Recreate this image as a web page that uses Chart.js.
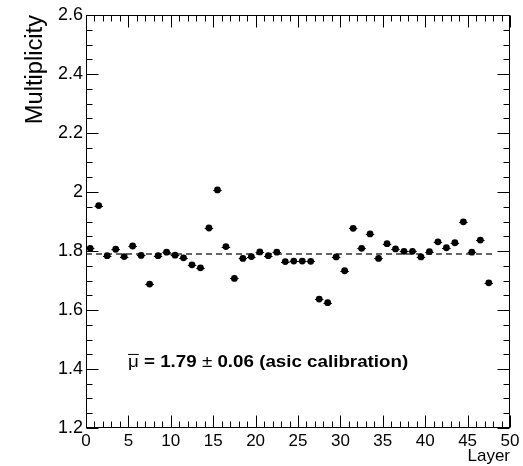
<!DOCTYPE html>
<html>
<head>
<meta charset="utf-8">
<script src="https://cdn.jsdelivr.net/npm/chart.js@4"></script>
<style>
  body { margin: 0; background: #fff; }
  #wrap { width: 523px; height: 466px; }
</style>
</head>
<body>
<div id="wrap"><canvas id="c" width="523" height="466"></canvas></div>
<script>
// data (bin centres of each layer)
const layers = [0.5, 1.5, 2.5, 3.5, 4.5, 5.5, 6.5, 7.5, 8.5, 9.5,
  10.5, 11.5, 12.5, 13.5, 14.5, 15.5, 16.5, 17.5, 18.5, 19.5,
  20.5, 21.5, 22.5, 23.5, 24.5, 25.5, 26.5, 27.5, 28.5, 29.5,
  30.5, 31.5, 32.5, 33.5, 34.5, 35.5, 36.5, 37.5, 38.5, 39.5,
  40.5, 41.5, 42.5, 43.5, 44.5, 45.5, 46.5, 47.5];
const multiplicity = [1.809, 1.954, 1.784, 1.806, 1.781, 1.817, 1.785, 1.688, 1.784, 1.796,
  1.786, 1.777, 1.753, 1.743, 1.878, 2.007, 1.815, 1.707, 1.775, 1.781,
  1.797, 1.784, 1.796, 1.764, 1.766, 1.766, 1.765, 1.637, 1.625, 1.780,
  1.733, 1.877, 1.809, 1.858, 1.775, 1.825, 1.807, 1.799, 1.799, 1.780,
  1.798, 1.831, 1.811, 1.828, 1.899, 1.796, 1.837, 1.692];
const halfWidth = 0.5;          // horizontal error bar (bin half width)
const meanValue = 1.79;
const meanRange = [0, 48];
const xTicks = [0, 5, 10, 15, 20, 25, 30, 35, 40, 45, 50];
const yTicks = [1.2, 1.4, 1.6, 1.8, 2, 2.2, 2.4, 2.6];
const xTitle = 'Layer';
const yTitle = 'Multiplicity';
const label = { mu: '\u03bc', a: ' = 1.79 ', pm: '\u00b1', b: ' 0.06 (asic calibration)', x: 4.95, x2: 38, y: 1.407 };

const FONT = '"Liberation Sans", Arial, sans-serif';

// frame, inward ticks, error bars, titles and the fit label
const rootStyle = {
  id: 'rootStyle',
  beforeDatasetsDraw(chart) {
    const ctx = chart.ctx, xs = chart.scales.x, ys = chart.scales.y;
    ctx.save();
    ctx.strokeStyle = '#000';
    ctx.lineWidth = 1;
    layers.forEach((l, i) => {
      const py = Math.round(ys.getPixelForValue(multiplicity[i])) + 0.5;
      ctx.beginPath();
      ctx.moveTo(xs.getPixelForValue(l - halfWidth), py);
      ctx.lineTo(xs.getPixelForValue(l + halfWidth), py);
      ctx.stroke();
    });
    ctx.restore();
  },
  afterDraw(chart) {
    const ctx = chart.ctx, a = chart.chartArea;
    const xs = chart.scales.x, ys = chart.scales.y;
    ctx.save();
    ctx.strokeStyle = '#000';
    ctx.lineWidth = 1;
    const L = Math.round(a.left) + 0.5, R = Math.round(a.right) - 0.5;
    const T = Math.round(a.top) + 0.5, B = Math.round(a.bottom) - 0.5;
    ctx.strokeRect(L, T, R - L, B - T);
    ctx.beginPath();
    // x ticks: major every 5, minor every 1
    for (let v = 0; v <= 50; v += 1) {
      const p = Math.round(xs.getPixelForValue(v)) + 0.5;
      const len = v % 5 === 0 ? 12 : 6;
      ctx.moveTo(p, B); ctx.lineTo(p, B - len);
      ctx.moveTo(p, T); ctx.lineTo(p, T + len);
    }
    // y ticks: major every 0.2, minor every 0.05
    for (let k = 0; k <= 28; k++) {
      const v = 1.2 + k * 0.05;
      const p = Math.round(ys.getPixelForValue(v)) + 0.5;
      const len = k % 4 === 0 ? 12 : 6;
      ctx.moveTo(L, p); ctx.lineTo(L + len, p);
      ctx.moveTo(R, p); ctx.lineTo(R - len, p);
    }
    ctx.stroke();

    // axis titles
    ctx.fillStyle = '#000';
    ctx.font = '17px ' + FONT;
    ctx.textAlign = 'right';
    ctx.textBaseline = 'alphabetic';
    ctx.fillText(xTitle, a.right, 461);
    ctx.save();
    ctx.translate(42, a.top);
    ctx.rotate(-Math.PI / 2);
    ctx.scale(1.03, 1.08);
    ctx.font = '23px ' + FONT;
    ctx.textAlign = 'right';
    ctx.fillText(yTitle, 0, 0);
    ctx.restore();

    // fit label with overlined mu, stretched to the width seen in the picture
    const parts = [
      { t: label.mu, f: '17px ' }, { t: label.a, f: 'bold 17px ' },
      { t: label.pm, f: '17px ' }, { t: label.b, f: 'bold 17px ' }
    ];
    let total = 0;
    parts.forEach(p => { ctx.font = p.f + FONT; p.w = ctx.measureText(p.t).width; total += p.w; });
    const x0 = xs.getPixelForValue(label.x);
    const x1 = xs.getPixelForValue(label.x2);
    const y = ys.getPixelForValue(label.y);
    ctx.save();
    ctx.translate(x0, y);
    ctx.scale((x1 - x0) / total, 1);
    ctx.textAlign = 'left';
    let x = 0;
    parts.forEach((p, i) => {
      ctx.font = p.f + FONT;
      ctx.fillText(p.t, x, 0);
      if (i === 0) {
        ctx.beginPath();
        ctx.moveTo(x, -12.5); ctx.lineTo(x + p.w, -12.5);
        ctx.stroke();
      }
      x += p.w;
    });
    ctx.restore();
    ctx.restore();
  }
};

new Chart(document.getElementById('c'), {
  type: 'scatter',
  data: {
    datasets: [{
      data: layers.map((l, i) => ({ x: l, y: multiplicity[i] })),
      pointRadius: 3.4,
      pointBackgroundColor: '#000',
      pointBorderWidth: 0,
      showLine: false
    }, {
      type: 'line',
      data: meanRange.map(v => ({ x: v, y: meanValue })),
      borderColor: '#333',
      borderWidth: 1.6,
      borderDash: [6, 4],
      pointRadius: 0,
      fill: false
    }]
  },
  options: {
    responsive: false,
    animation: false,
    events: [],
    layout: { padding: { left: 0, right: 13, top: 15, bottom: 0 } },
    plugins: { legend: { display: false }, tooltip: { enabled: false } },
    scales: {
      x: {
        type: 'linear', min: 0, max: 50,
        afterFit: s => { s.height = 38; },
        afterBuildTicks: s => { s.ticks = xTicks.map(v => ({ value: v })); },
        grid: { display: false, drawTicks: false },
        border: { display: false },
        ticks: { color: '#000', font: { family: FONT, size: 17 }, padding: 3, maxRotation: 0, autoSkip: false }
      },
      y: {
        type: 'linear', min: 1.2, max: 2.6,
        afterFit: s => { s.width = 86; },
        afterBuildTicks: s => { s.ticks = yTicks.map(v => ({ value: v })); },
        grid: { display: false, drawTicks: false },
        border: { display: false },
        ticks: {
          color: '#000', font: { family: FONT, size: 18 }, padding: 3, autoSkip: false,
          callback: v => String(Math.round(v * 10) / 10)
        }
      }
    }
  },
  plugins: [rootStyle]
});
</script>
</body>
</html>
